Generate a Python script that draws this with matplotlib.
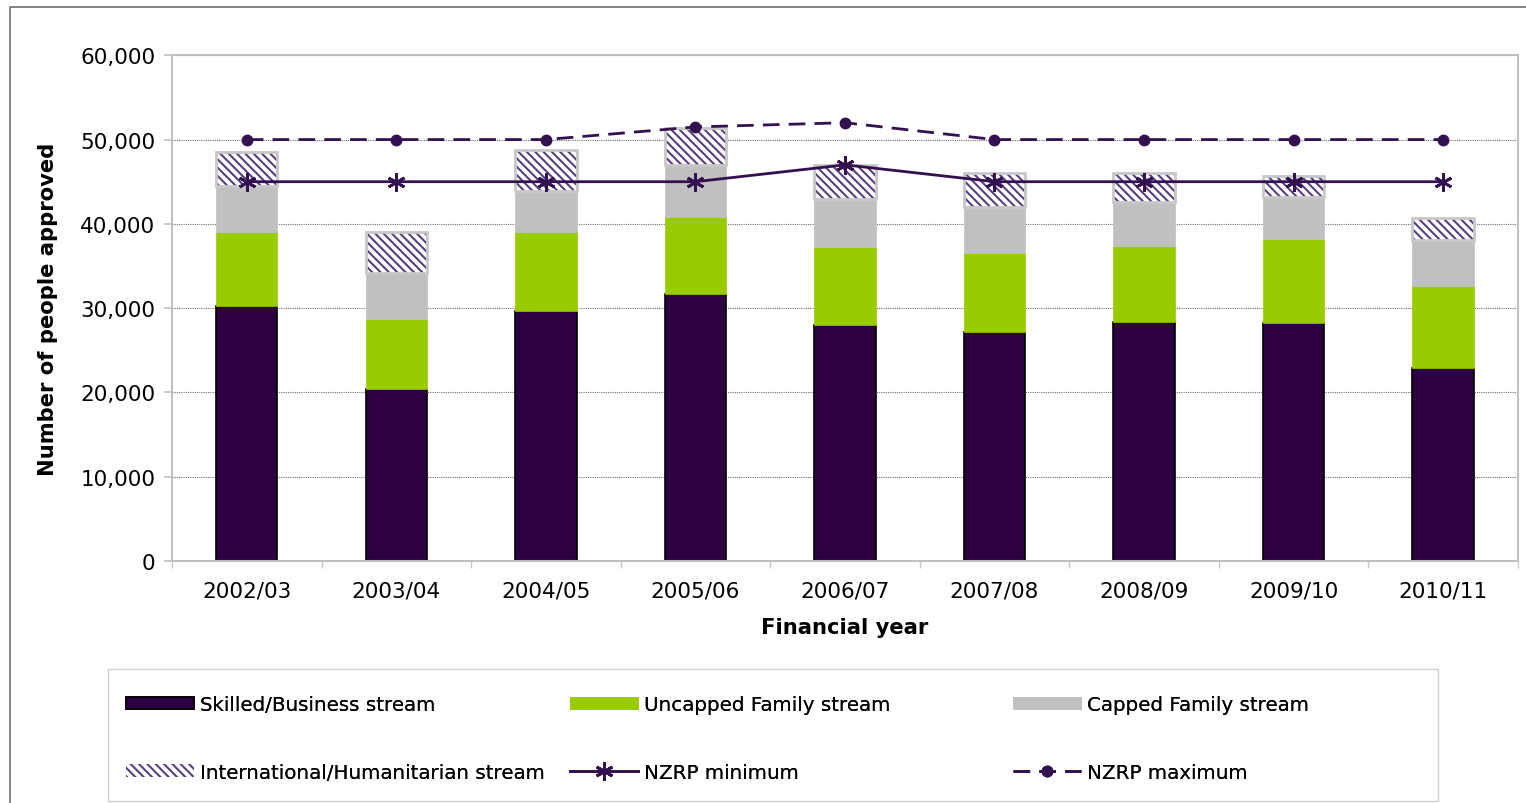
import numpy as np
import matplotlib.pyplot as plt
from matplotlib.patches import Rectangle

years = ["2002/03", "2003/04", "2004/05", "2005/06", "2006/07",
         "2007/08", "2008/09", "2009/10", "2010/11"]
skilled = [30250, 20400, 29650, 31650, 28000, 27150, 28350, 28250, 22900]
uncapped = [8750, 8300, 9350, 9150, 9250, 9400, 9000, 9950, 9700]
capped = [5450, 5450, 4850, 6150, 5700, 5450, 5200, 4950, 5450]
humanitarian = [4050, 4850, 4950, 4400, 4050, 4050, 3450, 2500, 2700]
nzrp_min = [45000, 45000, 45000, 45000, 47000, 45000, 45000, 45000, 45000]
nzrp_max = [50000, 50000, 50000, 51500, 52000, 50000, 50000, 50000, 50000]

dark = "#2D0041"
line_col = "#33104F"
hatch_col = "#5A3F7E"
plt.rcParams['font.family'] = ['DejaVu Sans']
plt.rcParams['hatch.linewidth'] = 1.5

fig = plt.figure(figsize=(15.26, 8.04), dpi=100)
ax = fig.add_axes([0.1127, 0.301, 0.882, 0.629])

x = np.arange(len(years))
w = 0.41
b1 = np.array(skilled)
b2 = b1 + np.array(uncapped)
b3 = b2 + np.array(capped)

ax.bar(x, skilled, w, color=dark, edgecolor="black", linewidth=1.2, label="Skilled/Business stream", zorder=2)
ax.bar(x, uncapped, w, bottom=b1, color="#99CC00", edgecolor="#99CC00", linewidth=0.5,
       label="Uncapped Family stream", zorder=2)
ax.bar(x, capped, w, bottom=b2, color="#C0C0C0", edgecolor="#C0C0C0", linewidth=0.5,
       label="Capped Family stream", zorder=2)
ax.bar(x, humanitarian, w, bottom=b3, color="white", edgecolor=hatch_col, linewidth=0, hatch="\\" * 4,
       label="International/Humanitarian stream", zorder=2)
ax.bar(x, humanitarian, w, bottom=b3, color="none", edgecolor="#C8C8C8", linewidth=2, zorder=2)

ax.plot(x, nzrp_min, color=line_col, linewidth=2, marker=(6, 2, 0), markersize=13, markeredgewidth=2,
        label="NZRP minimum", zorder=3)
ax.plot(x, nzrp_max, color=line_col, linewidth=2, dashes=(6, 3.3), marker="o", markersize=7.5,
        label="NZRP maximum", zorder=3)

ax.set_xlim(-0.5, len(years) - 0.5)
ax.set_ylim(0, 60000)
ax.set_yticks(range(0, 60001, 10000))
ax.set_yticklabels([f"{v:,}" for v in range(0, 60001, 10000)])
ax.set_xticks(x)
ax.set_xticklabels(years)
ax.set_xticks(np.arange(-0.5, len(years), 1), minor=True)
ax.tick_params(axis="x", which="major", labelsize=15.5, length=0, pad=14)
ax.tick_params(axis="x", which="minor", length=5, color="#C8C8C8", width=1)
ax.tick_params(axis="y", labelsize=15.5, length=6, color="#C0C0C0", width=1.2, pad=6)
ax.yaxis.grid(True, linestyle=(0, (1, 1)), color="#707070", linewidth=0.8, zorder=0)
ax.set_axisbelow(True)
for s in ["left", "right", "bottom", "top"]:
    ax.spines[s].set_color("#C0C0C0")
    ax.spines[s].set_linewidth(1.5)

ax.set_xlabel("Financial year", fontsize=15.2, fontweight="bold", labelpad=12)
ax.set_ylabel("Number of people approved", fontsize=15.2, fontweight="bold", labelpad=16)

handles, labels = ax.get_legend_handles_labels()
lookup = dict(zip(labels, handles))
columns = [["Skilled/Business stream", "International/Humanitarian stream"],
           ["Uncapped Family stream", "NZRP minimum"],
           ["Capped Family stream", "NZRP maximum"]]
col_x = [126, 570, 1013]
for cx, col in zip(col_x, columns):
    leg = fig.legend([lookup[c] for c in col], col, loc="upper left",
                     bbox_to_anchor=(cx / 1526, 1 - 696 / 804), frameon=False,
                     fontsize=14.3, handlelength=3.4, handleheight=0.6, labelspacing=2.45,
                     borderpad=0, borderaxespad=0, handletextpad=0.35)
    fig.add_artist(leg)

fig.patches.append(Rectangle((108 / 1526, 2 / 804), 1330 / 1526, 132 / 804, transform=fig.transFigure,
                             fill=False, edgecolor="#D0D0D0", linewidth=1))
fig.patches.append(Rectangle((10 / 1526, -0.01), 1.1, 1 - 8 / 804 + 0.01, transform=fig.transFigure,
                             fill=False, edgecolor="#707070", linewidth=1.2))

fig.savefig("out.png", dpi=100)
